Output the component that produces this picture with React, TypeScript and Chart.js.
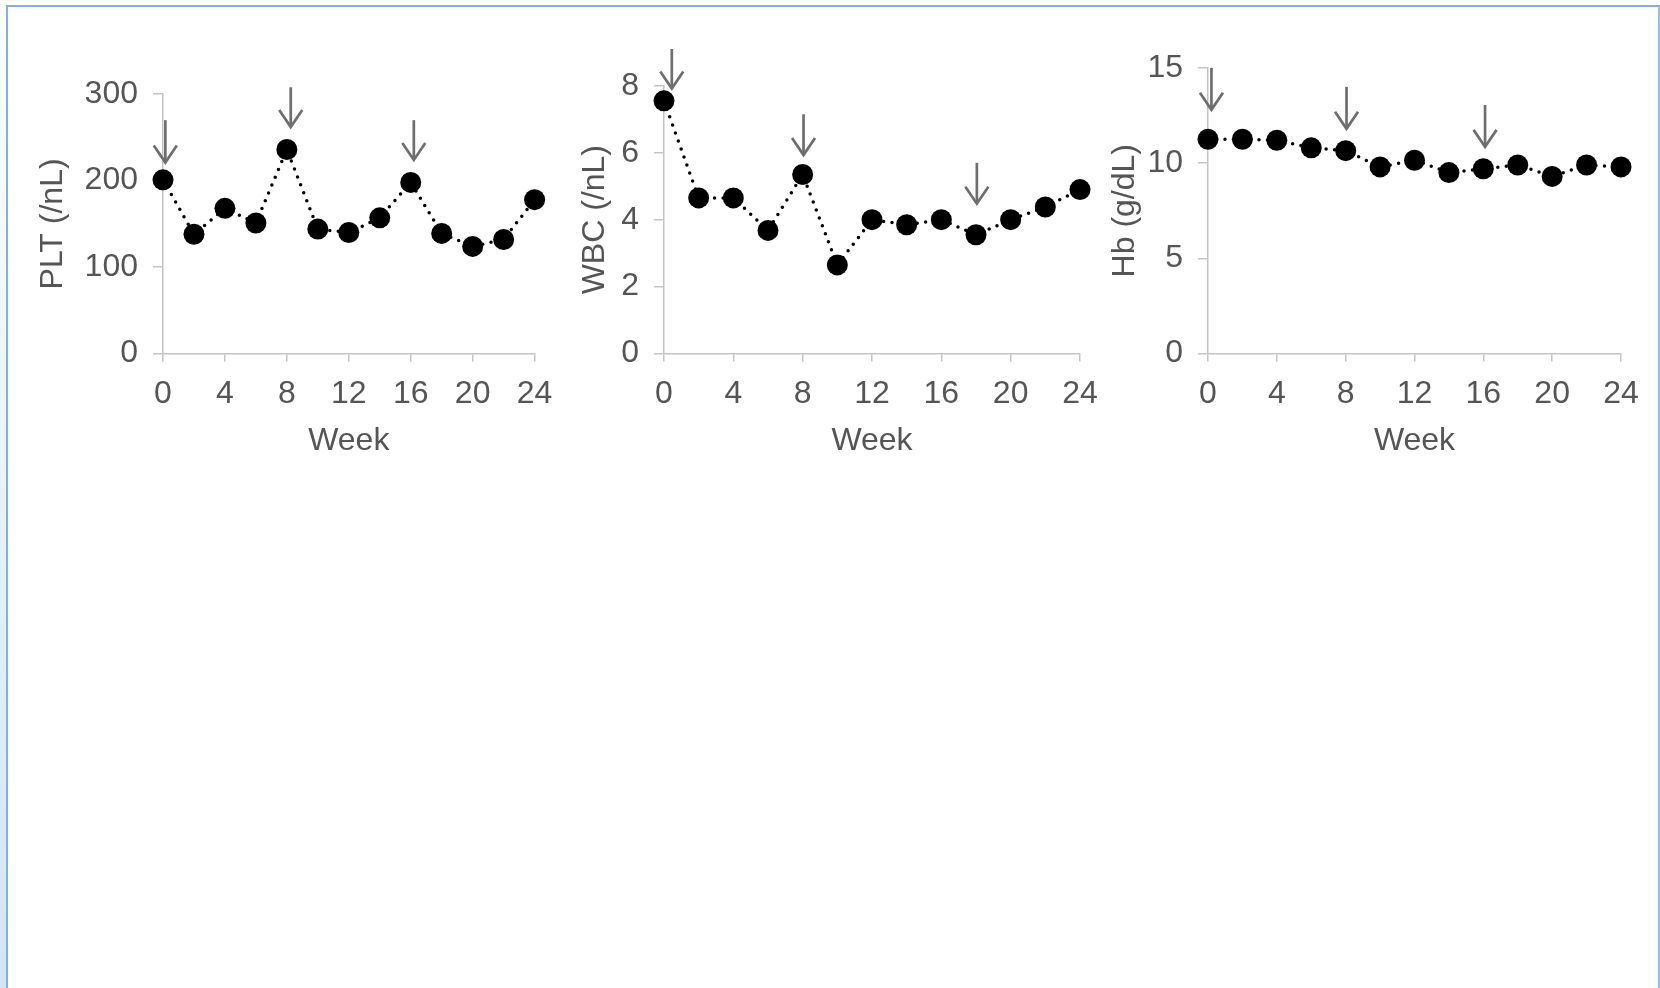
import React, { useEffect, useRef } from 'react';
import { Chart, registerables } from 'chart.js';

Chart.register(...registerables);

// ---- data ----
const weeks = [0, 2, 4, 6, 8, 10, 12, 14, 16, 18, 20, 22, 24];
const xTickStep = 4;

const pltValues = [201, 138, 168, 151, 236, 144, 140, 157, 198, 139, 124, 132, 178];
const wbcValues = [7.55, 4.65, 4.65, 3.68, 5.35, 2.65, 4.0, 3.85, 4.0, 3.55, 4.0, 4.38, 4.9];
const hbValues = [11.25, 11.25, 11.2, 10.8, 10.65, 9.8, 10.15, 9.5, 9.7, 9.9, 9.3, 9.9, 9.8];

const pltArrowWeeks = [0.15, 8.25, 16.2];
const pltArrowTops = [270, 308, 270];
const pltArrowTips = [221, 262, 224];

const wbcArrowWeeks = [0.45, 8.05, 18.05];
const wbcArrowTops = [9.1, 7.15, 5.7];
const wbcArrowTips = [7.92, 5.93, 4.48];

const hbArrowWeeks = [0.2, 8.05, 16.1];
const hbArrowTops = [15.0, 14.0, 13.05];
const hbArrowTips = [12.8, 11.8, 10.85];

const FONT = '"Liberation Sans", Arial, sans-serif';
const FS = 32;
const TEXT = '#555555';
const AXIS = '#c4c4c4';
const ARROW = '#6e6e6e';

const arrowPlugin = {
  id: 'arrows',
  afterDatasetsDraw(chart: any, _args: any, opts: any) {
    const { ctx, scales } = chart;
    const xs = scales.x;
    const ys = scales.y;
    const wk: number[] = opts.weeks || [];
    ctx.save();
    ctx.strokeStyle = ARROW;
    ctx.lineWidth = 2.7;
    ctx.lineJoin = 'miter';
    for (let i = 0; i < wk.length; i++) {
      const x = xs.getPixelForValue(wk[i]);
      const yTop = ys.getPixelForValue(opts.tops[i]);
      const yTip = ys.getPixelForValue(opts.tips[i]);
      ctx.beginPath();
      ctx.moveTo(x, yTop);
      ctx.lineTo(x, yTip - 1);
      ctx.stroke();
      ctx.beginPath();
      ctx.moveTo(x - 11.5, yTip - 17);
      ctx.lineTo(x, yTip);
      ctx.lineTo(x + 11.5, yTip - 17);
      ctx.stroke();
    }
    ctx.restore();
  },
};

type PanelProps = {
  left: number;
  width: number;
  height: number;
  yWidth: number;
  padTop: number;
  areaBottom: number;
  padRight: number;
  yMax: number;
  yStep: number;
  title: string;
  values: number[];
  arrowWeeks: number[];
  arrowTops: number[];
  arrowTips: number[];
};

function Panel(p: PanelProps) {
  const ref = useRef<HTMLCanvasElement>(null);
  useEffect(() => {
    if (!ref.current) return;
    const data = weeks.map((w, i) => ({ x: w, y: p.values[i] }));
    const xHeight = p.height - p.areaBottom;
    const chart = new Chart(ref.current, {
      type: 'line',
      data: {
        datasets: [
          {
            data,
            borderColor: '#000000',
            backgroundColor: '#000000',
            borderWidth: 3.5,
            borderDash: [0, 8.5],
            borderCapStyle: 'round',
            pointRadius: 10.5,
            pointBorderWidth: 0,
            pointBackgroundColor: '#000000',
            tension: 0,
            clip: false,
          } as any,
        ],
      },
      options: {
        animation: false,
        responsive: false,
        devicePixelRatio: 1,
        layout: { padding: { top: p.padTop, right: p.padRight, left: 0, bottom: 0 } },
        plugins: {
          legend: { display: false },
          tooltip: { enabled: false },
          arrows: { weeks: p.arrowWeeks, tops: p.arrowTops, tips: p.arrowTips },
        } as any,
        scales: {
          x: {
            type: 'linear',
            min: 0,
            max: 24,
            afterFit: (s: any) => {
              s.height = xHeight;
            },
            ticks: {
              stepSize: xTickStep,
              color: TEXT,
              font: { family: FONT, size: FS },
              padding: 13,
              maxRotation: 0,
            },
            grid: { drawOnChartArea: false, drawTicks: true, tickLength: 8, color: AXIS, lineWidth: 1.5 },
            border: { color: AXIS, width: 1.5 },
            title: {
              display: true,
              text: 'Week',
              color: TEXT,
              font: { family: FONT, size: FS },
              padding: { top: 0, bottom: 20 },
            },
          },
          y: {
            type: 'linear',
            min: 0,
            max: p.yMax,
            afterFit: (s: any) => {
              s.width = p.yWidth;
            },
            ticks: {
              stepSize: p.yStep,
              color: TEXT,
              font: { family: FONT, size: FS },
              padding: 15,
            },
            grid: { drawOnChartArea: false, drawTicks: true, tickLength: 10, color: AXIS, lineWidth: 1.5 },
            border: { color: AXIS, width: 1.5 },
            title: {
              display: true,
              text: p.title,
              color: TEXT,
              font: { family: FONT, size: FS },
              padding: { top: 34, bottom: 0 },
            },
          },
        },
      } as any,
      plugins: [arrowPlugin],
    });
    return () => chart.destroy();
  }, []);
  return (
    <canvas
      ref={ref}
      width={p.width}
      height={p.height}
      style={{ position: 'absolute', left: p.left, top: 0, width: p.width, height: p.height }}
    />
  );
}

export default function App() {
  return (
    <div
      style={{
        position: 'absolute',
        left: 0,
        top: 0,
        width: 1660,
        height: 988,
        overflow: 'hidden',
        background: '#ffffff',
      }}
    >
      <div
        style={{
          position: 'absolute',
          left: 0,
          top: 0,
          width: 6,
          height: 988,
          background: 'linear-gradient(#ffffff, #d3e4f5)',
        }}
      />
      <div
        style={{
          position: 'absolute',
          left: 6,
          top: 5,
          width: 1650,
          height: 1000,
          borderTop: '2px solid #7fb1e3',
          borderLeft: '2px solid #7fb1e3',
          borderRight: '2px solid #93bfe8',
        }}
      />
      <Panel
        left={0}
        width={600}
        height={480}
        yWidth={163}
        padTop={94.2}
        areaBottom={353.6}
        padRight={65.4}
        yMax={300}
        yStep={100}
        title="PLT (/nL)"
        values={pltValues}
        arrowWeeks={pltArrowWeeks}
        arrowTops={pltArrowTops}
        arrowTips={pltArrowTips}
      />
      <Panel
        left={542}
        width={600}
        height={480}
        yWidth={122}
        padTop={85.8}
        areaBottom={353.6}
        padRight={62}
        yMax={8}
        yStep={2}
        title="WBC (/nL)"
        values={wbcValues}
        arrowWeeks={wbcArrowWeeks}
        arrowTops={wbcArrowTops}
        arrowTips={wbcArrowTips}
      />
      <Panel
        left={1072}
        width={583}
        height={480}
        yWidth={136}
        padTop={67.8}
        areaBottom={353.6}
        padRight={34}
        yMax={15}
        yStep={5}
        title="Hb (g/dL)"
        values={hbValues}
        arrowWeeks={hbArrowWeeks}
        arrowTops={hbArrowTops}
        arrowTips={hbArrowTips}
      />
    </div>
  );
}
